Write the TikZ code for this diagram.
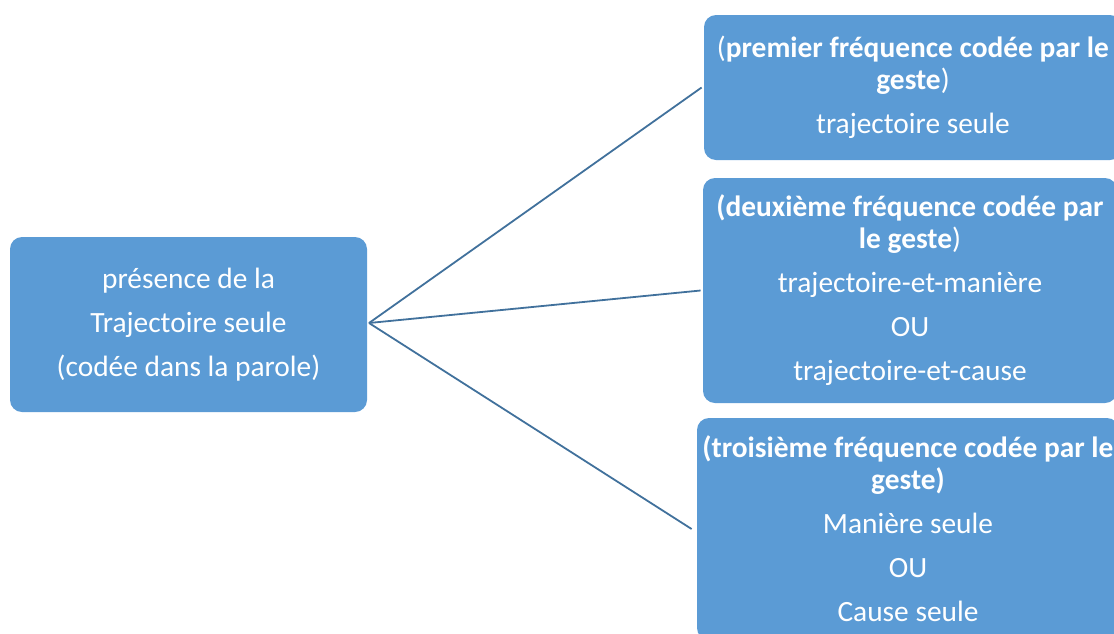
\documentclass[tikz,border=0pt]{standalone}
\usepackage{fontspec}
\setmainfont{Carlito}
\usepackage{xcolor}
\usetikzlibrary{positioning}
\definecolor{geBlue}{RGB}{91, 155, 213}
\definecolor{geLine}{RGB}{65, 113, 156}

\begin{document}
\begin{tikzpicture}[
  x=0.5pt, y=-0.5pt,
  box/.style={
    rectangle, rounded corners=6pt,
    fill=geBlue, draw=none, text=white,
    align=center, inner sep=0pt,
    font=\fontsize{14.7}{16}\selectfont
  },
  link/.style={draw=geLine, line width=0.9pt}
]
\clip (0,0) rectangle (1114,633);

\node[box, minimum width=178.5pt, minimum height=87.5pt] (source) at (188.5,324.5)
  {présence de la\\[6pt]
   Trajectoire seule\\[6pt]
   (codée dans la parole)};

\node[box, minimum width=209pt, minimum height=72.5pt] (first) at (913,87.5)
  {(\textbf{premier fréquence codée par le}\\
   \textbf{geste})\\[6pt]
   trajectoire seule};

\node[box, minimum width=207pt, minimum height=112.5pt] (second) at (910,290.5)
  {\textbf{(deuxième fréquence codée par}\\
   \textbf{le geste})\\[6pt]
   trajectoire-et-manière\\[6pt]
   OU\\[6pt]
   trajectoire-et-cause};

\node[box, minimum width=211pt, minimum height=111pt] (third) at (908,529)
  {\textbf{(troisième fréquence codée par le}\\
   \textbf{geste)}\\[6pt]
   Manière seule\\[6pt]
   OU\\[6pt]
   Cause seule};

\coordinate (hub) at (369,323);

\draw[link] (hub) -- ([xshift=-1pt]first.west);
\draw[link] (hub) -- ([xshift=-1pt]second.west);
\draw[link] (hub) -- ([xshift=-2.5pt]third.west);

\end{tikzpicture}
\end{document}
